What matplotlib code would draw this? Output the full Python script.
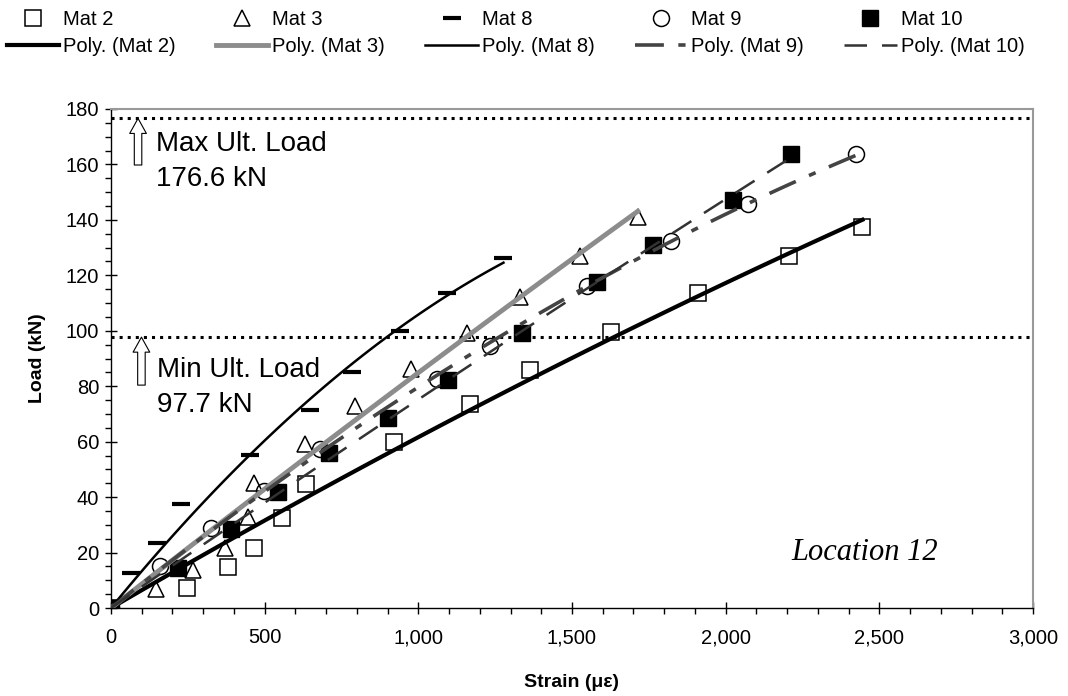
import numpy as np
import matplotlib
matplotlib.use("Agg")
import matplotlib.pyplot as plt
from matplotlib.ticker import MultipleLocator, StrMethodFormatter

plt.rcParams['font.family'] = ['Liberation Sans', 'DejaVu Sans']

# strain (microstrain) and load (kN)
mat2_s = [0, 246, 381, 466, 557, 635, 921, 1168, 1363, 1628, 1909, 2205, 2445]
mat2_l = [0, 7.2, 14.8, 21.7, 32.5, 44.6, 60.0, 73.7, 85.7, 99.7, 113.6, 126.9, 137.5]

mat3_s = [0, 147, 268, 371, 445, 465, 631, 794, 976, 1157, 1331, 1526, 1714]
mat3_l = [0, 7.0, 13.7, 21.5, 32.7, 45.0, 59.0, 73.0, 86.3, 99.1, 112.2, 127.1, 141.0]

mat8_s = [0, 65, 149, 228, 452, 648, 783, 940, 1092, 1277]
mat8_l = [0, 12.8, 23.6, 37.5, 55.1, 71.6, 85.1, 99.8, 113.6, 126.3]

mat9_s = [0, 159, 325, 499, 680, 1060, 1233, 1548, 1821, 2074, 2424]
mat9_l = [0, 15.3, 28.7, 42.2, 57.5, 82.7, 94.5, 116.3, 132.4, 145.6, 163.7]

mat10_s = [0, 219, 391, 544, 710, 902, 1098, 1338, 1580, 1762, 2025, 2213]
mat10_l = [0, 14.3, 28.4, 41.7, 55.9, 68.7, 82.1, 99.1, 117.6, 131.1, 147.3, 163.8]

max_ult = 176.6
min_ult = 97.7


def poly_fit(s, l):
    # 2nd order trendline with intercept set to 0 (as in the Excel chart)
    s = np.asarray(s, float)
    l = np.asarray(l, float)
    A = np.column_stack([s, s ** 2])
    coef = np.linalg.lstsq(A, l, rcond=None)[0]
    xs = np.linspace(0, s.max(), 120)
    return xs, coef[0] * xs + coef[1] * xs ** 2


fig = plt.figure(figsize=(10.68, 6.96), dpi=100)
ax = fig.add_axes([111 / 1068, 1 - 608 / 696, 922 / 1068, 499 / 696])

# markers
mk = dict(linestyle='none', zorder=3)
h2, = ax.plot(mat2_s, mat2_l, marker='s', ms=11, mfc='none', mec='black', mew=1.1, label='Mat 2', **mk)
h3, = ax.plot(mat3_s, mat3_l, marker='^', ms=11, mfc='none', mec='black', mew=1.1, label='Mat 3', **mk)
h8, = ax.plot(mat8_s, mat8_l, marker='_', ms=13, mec='black', mew=3, label='Mat 8', **mk)
h9, = ax.plot(mat9_s, mat9_l, marker='o', ms=11.5, mfc='none', mec='black', mew=1.1, label='Mat 9', **mk)
h10, = ax.plot(mat10_s, mat10_l, marker='s', ms=11.5, mfc='black', mec='black', mew=1, label='Mat 10', **mk)

# trendlines
x, y = poly_fit(mat2_s, mat2_l)
p2, = ax.plot(x, y, color='black', lw=3, zorder=4, label='Poly. (Mat 2)')
x, y = poly_fit(mat3_s, mat3_l)
p3, = ax.plot(x, y, color='#8c8c8c', lw=3.5, zorder=4, label='Poly. (Mat 3)')
x, y = poly_fit(mat8_s, mat8_l)
p8, = ax.plot(x, y, color='black', lw=1.8, zorder=4, label='Poly. (Mat 8)')
x, y = poly_fit(mat9_s, mat9_l)
p9, = ax.plot(x, y, color='#444444', lw=2.6, dashes=(8, 4, 2, 4), zorder=4, label='Poly. (Mat 9)')
x, y = poly_fit(mat10_s, mat10_l)
p10, = ax.plot(x, y, color='#333333', lw=1.8, dashes=(9, 6), zorder=4, label='Poly. (Mat 10)')

# ultimate load lines
for v in (max_ult, min_ult):
    ax.axhline(v, color='black', lw=2.2, linestyle=':', zorder=2)

arrow = dict(arrowstyle='simple,head_length=0.9,head_width=1.0,tail_width=0.45',
             fc='white', ec='black', lw=0.8, mutation_scale=12, shrinkA=0, shrinkB=0)
ax.annotate('', xy=(88, max_ult), xytext=(88, 159.8), arrowprops=arrow, zorder=5)
ax.annotate('', xy=(99, min_ult), xytext=(99, 80.4), arrowprops=arrow, zorder=5)

ax.text(145, 161.0, 'Max Ult. Load\n176.6 kN', fontsize=20, va='center', ha='left', linespacing=1.45)
ax.text(150, 79.5, 'Min Ult. Load\n97.7 kN', fontsize=20, va='center', ha='left', linespacing=1.45)
ax.text(2215, 17.3, 'Location 12', fontsize=22, style='italic', family='Liberation Serif',
        ha='left', va='baseline')

ax.set_xlim(0, 3000)
ax.set_ylim(0, 180)
ax.xaxis.set_major_locator(MultipleLocator(500))
ax.xaxis.set_minor_locator(MultipleLocator(100))
ax.yaxis.set_major_locator(MultipleLocator(20))
ax.yaxis.set_minor_locator(MultipleLocator(5))
ax.xaxis.set_major_formatter(StrMethodFormatter('{x:,.0f}'))
ax.tick_params(which='major', direction='inout', length=9, width=1, labelsize=14.5, pad=4)
ax.tick_params(which='minor', direction='out', length=4, width=1)
ax.tick_params(axis='x', which='major', pad=10)

for side in ('top', 'right'):
    ax.spines[side].set_color('#999999')
    ax.spines[side].set_linewidth(1.5)
for side in ('left', 'bottom'):
    ax.spines[side].set_color('black')
    ax.spines[side].set_linewidth(1)

ax.set_xlabel('Strain (\u03bc\u03b5)', fontsize=14, fontweight='bold')
ax.set_ylabel('Load (kN)', fontsize=14, fontweight='bold')
ax.xaxis.set_label_coords(0.5, -0.133)
ax.yaxis.set_label_coords(-0.070, 0.5)

# legend: two rows, five columns (column-wise order)
handles = [h2, p2, h3, p3, h8, p8, h9, p9, h10, p10]
fig.legend(handles=handles, labels=[h.get_label() for h in handles], ncol=5,
           loc='upper left', bbox_to_anchor=(-0.006, 1.004), frameon=False,
           fontsize=14.5, handlelength=2.6, handletextpad=0.2, columnspacing=2.0,
           labelspacing=0.4, borderpad=0.15)

fig.savefig('out.png', dpi=100)
